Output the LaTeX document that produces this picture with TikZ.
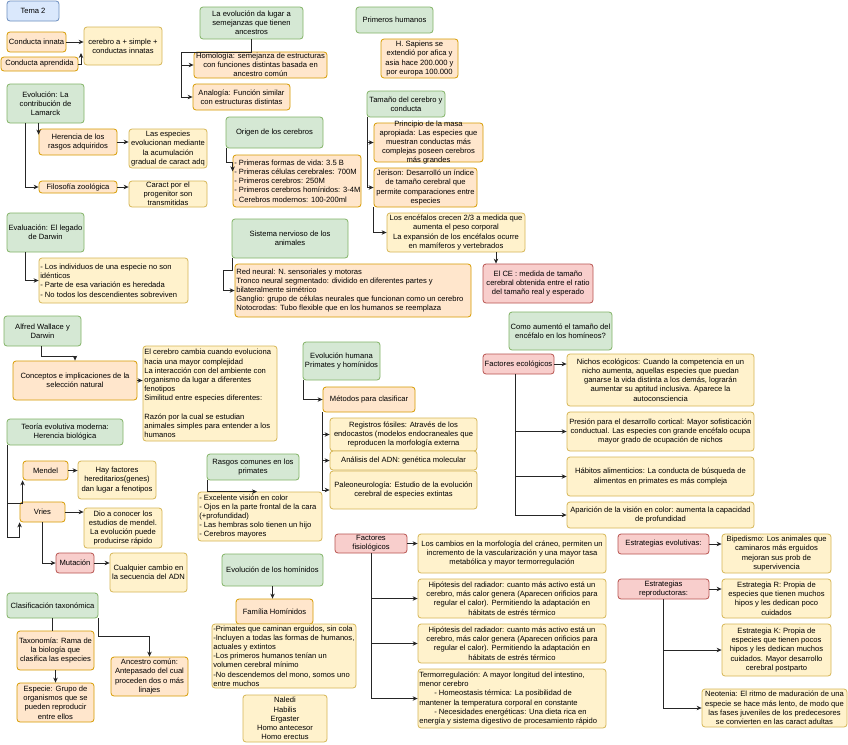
\documentclass[tikz,border=0pt]{standalone}
\usepackage{fontspec}
\setmainfont{Liberation Sans}
\usetikzlibrary{arrows.meta}

\definecolor{verdeF}{HTML}{D5E8D4}
\definecolor{verdeB}{HTML}{82B366}
\definecolor{naranjaF}{HTML}{FFE6CC}
\definecolor{naranjaB}{HTML}{D79B00}
\definecolor{amarilloF}{HTML}{FFF2CC}
\definecolor{amarilloB}{HTML}{D6B656}
\definecolor{rojoF}{HTML}{F8CECC}
\definecolor{rojoB}{HTML}{B85450}
\definecolor{azulF}{HTML}{DAE8FC}
\definecolor{azulB}{HTML}{6C8EBF}

\tikzset{
	borde/.style={rounded corners=3pt, line width=0.8pt},
	verde/.style={borde, fill=verdeF, draw=verdeB},
	naranja/.style={borde, fill=naranjaF, draw=naranjaB},
	amarillo/.style={borde, fill=amarilloF, draw=amarilloB},
	rojo/.style={borde, fill=rojoF, draw=rojoB},
	azul/.style={borde, fill=azulF, draw=azulB},
	texto/.style={font=\fontsize{7.6}{9.2}\selectfont, inner sep=0pt, align=center},
	linea/.style={draw=black!85, line width=0.8pt},
	flecha/.style={linea, -{Stealth[length=5pt,width=4.5pt]}},
}

% caja: estilo, nombre, x1, y1, x2, y2, texto
\newcommand{\caja}[7]{%
	\node[#1, minimum width={(#5-#3)*1pt}, minimum height={(#6-#4)*1pt}] (#2) at ({(#3+#5)/2},{(#4+#6)/2}) {};
	\node[texto] (#2-t) at (#2.center) {#7};}
\newcommand{\lista}[7]{%
	\node[#1, minimum width={(#5-#3)*1pt}, minimum height={(#6-#4)*1pt}] (#2) at ({(#3+#5)/2},{(#4+#6)/2}) {};
	\node[texto, anchor=west, align=left] (#2-t) at ([xshift=1.5pt]#2.west) {#7};}

\begin{document}
\begin{tikzpicture}[x=1pt, y=-1pt]
	\path[fill=white, use as bounding box] (0,0) rectangle (848,744);

	% columna izquierda
	\caja{azul}{tema}{7}{1}{59}{21}{Tema 2}
	\caja{naranja}{innata}{7}{32}{66}{52}{Conducta innata}
	\caja{naranja}{aprendida}{1}{57}{78}{71}{Conducta aprendida}
	\caja{amarillo}{simple}{84}{27}{162}{65}{cerebro a + simple +\\conductas innatas}
	\caja{verde}{lamarck}{7}{84}{84}{123}{Evolución: La\\contribución de\\Lamarck}
	\caja{naranja}{herencia}{39}{129}{117}{155}{Herencia de los\\rasgos adquiridos}
	\caja{naranja}{filosofia}{39}{181}{117}{193}{Filosofía zoológica}
	\caja{amarillo}{acumulacion}{129}{129}{207}{168}{Las especies\\evolucionan mediante\\la acumulación\\gradual de caract adq}
	\caja{amarillo}{progenitor}{129}{181}{207}{207}{Caract por el\\progenitor son\\transmitidas}
	\caja{verde}{darwin}{7}{213}{84}{252}{Evaluación: El legado\\de Darwin}
	\lista{amarillo}{variacion}{39}{258}{188}{303}{- Los individuos de una especie no son\\idénticos\\- Parte de esa variación es heredada\\- No todos los descendientes sobreviven}
	\caja{verde}{wallace}{4}{316}{81}{346}{Alfred Wallace y\\Darwin}
	\caja{naranja}{seleccion}{13}{361}{137}{400}{Conceptos e implicaciones de la\\selección natural}
	\lista{amarillo}{complejidad}{143}{346}{277}{441}{El cerebro cambia cuando evoluciona\\hacia una mayor complejidad\\La interacción con del ambiente con\\organismo da lugar a diferentes\\fenotipos\\Similitud entre especies diferentes:\\[9.2pt]Razón por la cual se estudian\\animales simples para entender a los\\humanos}
	\caja{verde}{moderna}{7}{419}{123}{445}{Teoría evolutiva moderna:\\Herencia biológica}
	\caja{naranja}{mendel}{23}{461}{68}{480}{Mendel}
	\caja{amarillo}{genes}{78}{461}{156}{499}{Hay  factores\\hereditarios(genes)\\dan lugar a fenotipos}
	\caja{naranja}{vries}{20}{502}{65}{522}{Vries}
	\caja{amarillo}{rapido}{84}{508}{162}{548}{Dio a conocer los\\estudios de mendel.\\La evolución puede\\producirse rápido}
	\caja{rojo}{mutacion}{56}{553}{94}{573}{Mutación}
	\caja{amarillo}{adn}{110}{553}{187}{592}{Cualquier cambio en\\la secuencia del ADN}
	\caja{verde}{taxonomica}{7}{593}{98}{618}{Clasificación taxonómica}
	\caja{naranja}{taxonomia}{17}{631}{94}{670}{Taxonomía: Rama de\\la biología que\\clasifica las especies}
	\caja{naranja}{especie}{17}{683}{94}{722}{Especie: Grupo de\\organismos que se\\pueden reproducir\\entre ellos}
	\caja{naranja}{ancestro}{111}{657}{188}{696}{Ancestro común:\\Antepasado del cual\\proceden dos o más\\linajes}

	% columna central
	\caja{verde}{semejanza}{200}{7}{303}{39}{La evolución da lugar a\\semejanzas que tienen\\ancestros}
	\caja{naranja}{homologia}{194}{52}{327}{78}{Homología: semejanza de estructuras\\con funciones distintas basada en\\ancestro común}
	\caja{naranja}{analogia}{193}{84}{290}{110}{Analogía: Función similar\\con estructuras distintas}
	\caja{verde}{origen}{226}{117}{323}{148}{Origen de los cerebros}
	\lista{naranja}{formas}{233}{155}{361}{207}{- Primeras formas de vida: 3.5  B\\- Primeras células cerebrales: 700M\\- Primeros cerebros: 250M\\- Primeros cerebros homínidos: 3-4M\\- Cerebros modernos: 100-200ml}
	\caja{verde}{sistema}{232}{219}{348}{258}{Sistema nervioso de los\\animales}
	\lista{naranja}{neural}{235}{264}{471}{317}{Red neural: N. sensoriales y motoras\\Tronco neural segmentado: dividido en diferentes partes y\\bilateralmente simétrico\\Ganglio: grupo de células neurales que funcionan como un cerebro\\Notocrodas: Tubo flexible que en los humanos se reemplaza}
	\caja{verde}{humana}{303}{342}{380}{380}{Evolución humana\\Primates y homínidos}
	\caja{naranja}{metodos}{323}{387}{415}{412}{Métodos para clasificar}
	\caja{amarillo}{fosiles}{330}{418}{477}{451}{Registros fósiles: Através de los\\endocastos (modelos endocraneales que\\reproducen la morfología externa}
	\caja{amarillo}{molecular}{330}{451}{477}{470}{Análisis del ADN: genética molecular}
	\caja{amarillo}{paleo}{330}{471}{477}{509}{Paleoneurología: Estudio de la evolución\\cerebral de especies extintas}
	\caja{verde}{rasgos}{207}{454}{299}{480}{Rasgos comunes en los\\primates}
	\lista{amarillo}{primates}{198}{492}{322}{541}{- Excelente visión en color\\- Ojos en la parte frontal de la cara\\(+profundidad)\\- Las hembras solo tienen un hijo\\- Cerebros mayores}
	\caja{verde}{hominidos}{222}{554}{323}{586}{Evolución de los homínidos}
	\caja{naranja}{familia}{236}{599}{313}{624}{Família Homínidos}
	\lista{amarillo}{erguidos}{212}{624}{356}{688}{-Primates que caminan erguidos, sin cola\\-Incluyen a todas las formas de humanos,\\actuales y extintos\\-Los primeros humanos tenían un\\volumen cerebral mínimo\\-No descendemos del mono, somos uno\\entre muchos}
	\caja{amarillo}{generos}{243}{695}{327}{742}{Naledi\\Habilis\\Ergaster\\Homo antecesor\\Homo erectus}
	\caja{rojo}{fisiologicos}{335}{534}{407}{553}{Factores\\fisiológicos}
	\caja{amarillo}{craneo}{418}{534}{606}{573}{Los cambios en la morfología del cráneo, permiten un\\incremento de la vascularización y una mayor tasa\\metabólica y mayor termorregulación}
	\caja{amarillo}{radiadorA}{418}{579}{606}{618}{Hipótesis del radiador: cuanto más activo está un\\cerebro, más calor genera (Aparecen orificios para\\regular el calor). Permitiendo la adaptación en\\hábitats de estrés térmico}
	\caja{amarillo}{radiadorB}{418}{624}{606}{663}{Hipótesis del radiador: cuanto más activo está un\\cerebro, más calor genera (Aparecen orificios para\\regular el calor). Permitiendo la adaptación en\\hábitats de estrés térmico}
	\lista{amarillo}{termo}{418}{669}{606}{728}{Termorregulación: A mayor longitud del intestino,\\menor cerebro\\\hspace*{15pt}- Homeostasis térmica: La posibilidad de\\mantener la temperatura corporal en constante\\\hspace*{15pt}- Necesidades energéticas: Una dieta rica en\\energía y sistema digestivo de procesamiento rápido}

	% columna derecha
	\caja{verde}{humanos}{356}{7}{433}{33}{Primeros humanos}
	\caja{naranja}{sapiens}{381}{39}{458}{78}{H. Sapiens se\\extendió por afica y\\asia hace 200.000 y\\por europa  100.000}
	\caja{verde}{tamano}{367}{91}{445}{117}{Tamaño del cerebro y\\conducta}
	\caja{naranja}{masa}{374}{123}{483}{162}{Principio de la masa\\apropiada: Las especies que\\muestran conductas más\\complejas poseen cerebros\\más grandes}
	\caja{naranja}{jerison}{374}{168}{477}{207}{Jerison: Desarrolló un índice\\de tamaño cerebral que\\permite comparaciones entre\\especies}
	\caja{amarillo}{encefalos}{387}{213}{525}{252}{Los encéfalos crecen  2/3 a medida que\\aumenta el peso corporal\\La expansión de los encéfalos ocurre\\en mamíferos y vertebrados}
	\caja{rojo}{ce}{483}{264}{593}{303}{El CE : medida de tamaño\\cerebral obtenida entre el ratio\\del tamaño real y esperado}
	\caja{verde}{encefalo}{509}{312}{612}{350}{Como aumentó el tamaño del\\encéfalo en los homíneos?}
	\caja{rojo}{ecologicos}{483}{354}{554}{374}{Factores ecológicos}
	\caja{amarillo}{nichos}{567}{354}{754}{406}{Nichos ecológicos: Cuando la competencia en un\\nicho aumenta, aquellas especies que puedan\\ganarse la vida distinta a los demás, lograrán\\aumentar su aptitud inclusiva. Aparece la\\autoconsciencia}
	\caja{amarillo}{cortical}{567}{412}{754}{451}{Presión para el desarrollo cortical: Mayor sofisticación\\conductual. Las especies con grande encéfalo ocupa\\mayor grado de ocupación de nichos}
	\caja{amarillo}{habitos}{567}{457}{754}{496}{Hábitos alimenticios: La conducta de búsqueda de\\alimentos en primates es más compleja}
	\caja{amarillo}{vision}{567}{502}{754}{528}{Aparición de la visión en color: aumenta la capacidad\\de profundidad}
	\caja{rojo}{evolutivas}{618}{534}{709}{554}{Estrategias evolutivas:}
	\caja{amarillo}{bipedismo}{722}{534}{831}{573}{Bipedismo: Los animales que\\caminaros más erguidos\\mejoran sus prob de\\supervivencia}
	\caja{rojo}{reproductoras}{618}{579}{709}{599}{Estrategias\\reproductoras:}
	\caja{amarillo}{estrategiaR}{722}{579}{831}{618}{Estrategia R: Propia de\\especies que tienen muchos\\hipos y les dedican poco\\cuidados}
	\caja{amarillo}{estrategiaK}{722}{624}{831}{676}{Estrategia K: Propia de\\especies que tienen pocos\\hipos y les dedican muchos\\cuidados. Mayor desarrollo\\cerebral postparto}
	\caja{amarillo}{neotenia}{702}{689}{847}{727}{Neotenia: El ritmo de maduración de una\\especie se hace más lento, de modo que\\las fases juveniles de los predecesores\\se convierten en las caract adultas}

	% conectores
	\coordinate (aprendida-c) at (81,53);
	\coordinate (semejanza-c) at (181,52);
	\draw[flecha] (innata.east) -- (innata.east -| simple.west);
	\draw[flecha] (aprendida.east) -| (aprendida-c);
	\draw[linea] (semejanza.south) |- (semejanza-c);
	\foreach \destino in {homologia,analogia}
		\draw[flecha] (semejanza-c) |- (\destino.west);
	\foreach \destino in {masa,jerison}
		\draw[flecha] ([xshift=1pt]tamano.south west) |- (\destino.west);
	\draw[flecha] (jerison.south west) |- (encefalos.west);
	\draw[flecha] ([xshift=40pt]encefalos.south) -- ([xshift=40pt]encefalos.south |- ce.north);
	\draw[flecha] ([xshift=1pt]origen.south west) -- ++(0,14) -- ++(6,0) -- ++(0,9);
	\draw[flecha] ([xshift=1pt]sistema.south west) -- ++(0,12) -- ++(-9,0) |- (neural.west);
	\draw[flecha] (lamarck.south -| herencia.west) -- ([yshift=-6pt]herencia.north west);
	\draw[flecha] ([xshift=19pt]lamarck.south west) |- (filosofia.west);
	\draw[flecha] (herencia.east) -- (herencia.east -| acumulacion.west);
	\draw[flecha] (filosofia.east) -- (filosofia.east -| progenitor.west);
	\draw[flecha] ([xshift=19pt]darwin.south west) |- (variacion.west);
	\draw[flecha] ([xshift=38pt]wallace.south west) |- ([yshift=4pt]seleccion.north) -- (seleccion.north);
	\draw[flecha] (seleccion.east) -- (seleccion.east -| complejidad.west);
	\draw[flecha] ([xshift=1pt]moderna.south west) |- ([yshift=-23pt]mendel.south west) -- (mendel.south west);
	\draw[flecha] ([xshift=1pt]moderna.south west) |- ([yshift=-15pt]vries.south west) -- (vries.south west);
	\draw[flecha] (mendel.east) -- (mendel.east -| genes.west);
	\draw[flecha] (vries.east) -- (vries.east -| rapido.west);
	\draw[flecha] ([xshift=23pt]vries.south west) |- (mutacion.west);
	\draw[flecha] (mutacion.east) -- (mutacion.east -| adn.west);
	\draw[linea] (taxonomica.south) -- (taxonomica.south |- taxonomia.north);
	\draw[flecha] (taxonomia.south) -- (especie.north);
	\draw[flecha] (taxonomica.south east) |- ([yshift=20pt]ancestro.north) -- (ancestro.north);
	\draw[flecha] ([xshift=1pt]rasgos.south west) |- ([xshift=-3pt]primates.north);
	\draw[flecha] ([xshift=1pt]humana.south west) |- (metodos.west);
	\foreach \destino in {fosiles,molecular,paleo}
		\draw[flecha] (metodos.south west) |- (\destino.west);
	\draw[flecha] (hominidos.south) -- (hominidos.south |- familia.north);
	\draw[flecha] (fisiologicos.east) -- (fisiologicos.east -| craneo.west);
	\foreach \destino in {radiadorA,radiadorB,termo}
		\draw[flecha] (fisiologicos.south) |- (\destino.west);
	\draw[flecha] (ecologicos.east) -- (ecologicos.east -| nichos.west);
	\foreach \destino in {cortical,habitos,vision}
		\draw[flecha] ([xshift=-3pt]ecologicos.south) |- (\destino.west);
	\draw[flecha] (evolutivas.east) -- (evolutivas.east -| bipedismo.west);
	\draw[flecha] (reproductoras.east) -- (reproductoras.east -| estrategiaR.west);
	\foreach \destino in {estrategiaK,neotenia}
		\draw[flecha] (reproductoras.south) |- (\destino.west);
\end{tikzpicture}
\end{document}
